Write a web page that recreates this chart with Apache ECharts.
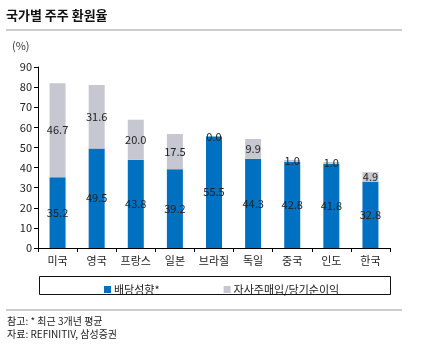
<!DOCTYPE html>
<html><head><meta charset="utf-8">
<script src="https://cdn.jsdelivr.net/npm/echarts@6/dist/echarts.min.js"></script>
<style>html,body{margin:0;padding:0;background:#fff}#c{width:422px;height:348px}</style>
</head><body><div id="c"></div>
<script>
const categories = ['미국','영국','프랑스','일본','브라질','독일','중국','인도','한국'];
const dividendPayout = [35.2,49.5,43.8,39.2,55.5,44.3,42.8,41.8,32.8];
const buybackRatio = [46.7,31.6,20.0,17.5,0.0,9.9,1.0,1.0,4.9];
const yTicks = [0,10,20,30,40,50,60,70,80,90];
const seriesNames = ['배당성향*','자사주매입/당기순이익'];

const FONT = '"Noto Sans CJK KR", "Noto Sans", sans-serif';
const chart = echarts.init(document.getElementById('c'), null, {renderer:'canvas'});
const lbl = {show:true, position:'inside', color:'#222', fontSize:11, fontFamily:FONT, formatter:p=>p.value.toFixed(1)};
chart.setOption({
  animation:false,
  textStyle:{fontFamily:FONT},
  grid:{left:38, right:32, top:67, bottom:100, containLabel:false},
  xAxis:{type:'category', data:categories,
    axisLine:{lineStyle:{color:'#000', width:1}},
    axisTick:{show:true, length:4, lineStyle:{color:'#000'}},
    axisLabel:{color:'#222', fontSize:11, fontFamily:FONT, margin:7, interval:0}},
  yAxis:{type:'value', min:yTicks[0], max:yTicks[yTicks.length-1], interval:10,
    axisLine:{show:true, lineStyle:{color:'#000'}},
    axisTick:{show:true, length:4, lineStyle:{color:'#000'}},
    splitLine:{show:false},
    axisLabel:{color:'#222', fontSize:11, fontFamily:FONT, margin:6}},
  legend:{left:99, top:279, itemWidth:7, itemHeight:7, itemGap:64, icon:'rect',
    textStyle:{color:'#222', fontSize:11, fontFamily:FONT, padding:[0,0,0,-2]},
    data:seriesNames},
  series:[
    {name:seriesNames[0], type:'bar', stack:'s', data:dividendPayout, barWidth:16,
      itemStyle:{color:'#0070C0'}, label:lbl},
    {name:seriesNames[1], type:'bar', stack:'s', data:buybackRatio, barWidth:16,
      itemStyle:{color:'#C6C7D1'}, label:lbl}
  ],
  graphic:[
    {type:'text', left:6, top:9, style:{text:'국가별 주주 환원율', font:'bold 13px '+FONT, fill:'#111'}},
    {type:'line', shape:{x1:6,y1:30,x2:402,y2:30}, style:{stroke:'#999', lineWidth:1}},
    {type:'text', left:12, top:40, style:{text:'(%)', font:'11px '+FONT, fill:'#333'}},
    {type:'rect', shape:{x:39.5,y:276.5,width:351,height:18}, style:{fill:'none', stroke:'#111', lineWidth:1}},
    {type:'line', shape:{x1:6,y1:310,x2:402,y2:310}, style:{stroke:'#999', lineWidth:1}},
    {type:'text', left:7, top:316, style:{text:'참고: * 최근 3개년 평균', font:'10px '+FONT, fill:'#222'}},
    {type:'text', left:7, top:329, style:{text:'자료: REFINITIV, 삼성증권', font:'10px '+FONT, fill:'#222'}}
  ]
});
</script></body></html>
